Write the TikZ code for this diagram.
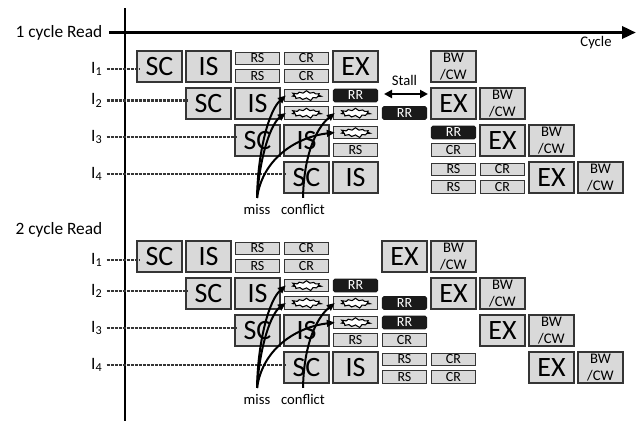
\documentclass[tikz,border=0pt]{standalone}
\usepackage{fontspec}
\setmainfont{Carlito}
\usetikzlibrary{arrows.meta,shapes.symbols}
\definecolor{boxfill}{HTML}{D9D9D9}
\definecolor{boxline}{HTML}{353535}
\definecolor{rrfill}{HTML}{1A1A1A}
\tikzset{
  bigb/.style={draw=boxline, fill=boxfill, line width=1.1pt, minimum width=33.75pt, minimum height=23.25pt, inner sep=0pt, font=\fontsize{21}{21}\selectfont},
  bwb/.style={bigb, font=\fontsize{11}{12.5}\selectfont, align=center},
  smallb/.style={draw=boxline, fill=boxfill, line width=1pt, minimum width=33pt, minimum height=9.4pt, inner sep=0pt, font=\fontsize{10.5}{10.5}\selectfont},
  rrb/.style={smallb, fill=rrfill, draw=rrfill, rounded corners=1.2pt, text=white},
  burst/.style={starburst, starburst points=11, starburst point height=2.4pt, minimum width=23pt, minimum height=8.5pt, inner sep=0pt, draw=black, line width=0.8pt, fill=white},
  ilab/.style={anchor=east, inner sep=1pt, font=\fontsize{13}{13}\selectfont},
  iline/.style={draw=boxline, line width=1.8pt, dash pattern=on 2.2pt off 0.8pt},
  curv/.style={line width=1.5pt, -{Triangle[length=6pt,width=5pt]}},
  ann/.style={font=\fontsize{11}{11}\selectfont, inner sep=1pt},
  ttl/.style={font=\fontsize{13}{13}\selectfont, inner sep=1pt, anchor=west},
}
\newcommand\pbig[4]{\node[bigb] (#1) at ({159.5+49*#2},{#3+15.5}) {#4};}
\newcommand\pbw[3]{\node[bwb] (#1) at ({159.5+49*#2},{#3+15.5}) {BW\\/CW};}
\newcommand\ptop[4]{\node[smallb] (#1) at ({159.5+49*#2},{#3+7.5}) {#4};}
\newcommand\pbot[4]{\node[smallb] (#1) at ({159.5+49*#2},{#3+25}) {#4};}
\newcommand\prrt[3]{\node[rrb] (#1) at ({159.5+49*#2},{#3+7.5}) {RR};}
\newcommand\prrb[3]{\node[rrb] (#1) at ({159.5+49*#2},{#3+25}) {RR};}
\newcommand\pstt[3]{\node[smallb] (#1) at ({159.5+49*#2},{#3+7.5}) {}; \node[burst] (#1b) at (#1.center) {};}
\newcommand\pstb[3]{\node[smallb] (#1) at ({159.5+49*#2},{#3+25}) {}; \node[burst] (#1b) at (#1.center) {};}
\begin{document}
\begin{tikzpicture}[x=0.75pt,y=-0.75pt]
\useasboundingbox (0,0) rectangle (640,421);
% axis
\coordinate (axtop) at (125,8);
\coordinate (axbot) at (125,421);
\draw[line width=1pt, black] (axtop) -- (axbot);
% titles
\node[ttl] (t1) at (14,32.5) {1 cycle Read};
\node[ttl] (t2) at (14,230) {2 cycle Read};
\coordinate (cyc) at (636,32.5);
\draw[line width=2.6pt, -{Triangle[length=10.5pt,width=9pt]}] ([xshift=4pt]t1.east) -- (cyc);
\node[ann] (cyl) at (596,43) {Cycle};

% ===== top section =====
\pbig{a1sc}{0}{51}{SC} \pbig{a1is}{1}{51}{IS}
\ptop{a1rs1}{2}{51}{RS} \pbot{a1rs2}{2}{51}{RS}
\ptop{a1cr1}{3}{51}{CR} \pbot{a1cr2}{3}{51}{CR}
\pbig{a1ex}{4}{51}{EX} \pbw{a1bw}{6}{51}

\pbig{a2sc}{1}{88}{SC} \pbig{a2is}{2}{88}{IS}
\pstt{a2x1}{3}{88} \pstb{a2x2}{3}{88}
\prrt{a2rr1}{4}{88} \pstb{a2x3}{4}{88}
\prrb{a2rr2}{5}{88}
\pbig{a2ex}{6}{88}{EX} \pbw{a2bw}{7}{88}

\pbig{a3sc}{2}{125}{SC} \pbig{a3is}{3}{125}{IS}
\pstt{a3x}{4}{125} \pbot{a3rs}{4}{125}{RS}
\prrt{a3rr}{6}{125} \pbot{a3cr}{6}{125}{CR}
\pbig{a3ex}{7}{125}{EX} \pbw{a3bw}{8}{125}

\pbig{a4sc}{3}{162}{SC} \pbig{a4is}{4}{162}{IS}
\ptop{a4rs1}{6}{162}{RS} \pbot{a4rs2}{6}{162}{RS}
\ptop{a4cr1}{7}{162}{CR} \pbot{a4cr2}{7}{162}{CR}
\pbig{a4ex}{8}{162}{EX} \pbw{a4bw}{9}{162}

% stall
\node[ann] (stl) at (404.5,80) {Stall};
\coordinate (stA) at (384,94);
\coordinate (stB) at (428,94);
\draw[line width=1.5pt, {Triangle[length=6pt,width=6pt]}-{Triangle[length=6pt,width=6pt]}] (stA) -- (stB);

% I labels top
\node[ilab] (la1) at (104,69) {I\textsubscript{1}};
\node[ilab] (la2) at (104,100.5) {I\textsubscript{2}};
\node[ilab] (la3) at (104,137) {I\textsubscript{3}};
\node[ilab] (la4) at (104,174) {I\textsubscript{4}};
\draw[iline] ([xshift=2pt]la1.east) -- ([xshift=2pt]la1.east -| a1sc.west);
\draw[iline] ([xshift=2pt]la2.east) -- ([xshift=2pt]la2.east -| a2sc.west);
\draw[iline] ([xshift=2pt]la3.east) -- ([xshift=2pt]la3.east -| a3sc.west);
\draw[iline] ([xshift=2pt]la4.east) -- ([xshift=2pt]la4.east -| a4sc.west);

% miss / conflict top
\node[ann] (ma) at (257,210) {miss};
\node[ann] (ca) at (303,210) {conflict};
\draw[curv] ([yshift=4pt]ma.north) .. controls +(1,-50) and +(-16,14) .. ([xshift=1.5pt]a2x1.west);
\draw[curv] ([yshift=4pt]ma.north) .. controls +(3,-45) and +(-14,10) .. ([xshift=1.5pt]a2x2.west);
\draw[curv] ([yshift=4pt]ma.north) .. controls +(6,-42) and +(-35,4) .. ([xshift=1.5pt]a3x.west);
\draw[curv] ([yshift=4pt]ca.north) .. controls +(1,-50) and +(-15,12) .. ([xshift=1.5pt]a2x3.west);

% ===== bottom section =====
\pbig{b1sc}{0}{241}{SC} \pbig{b1is}{1}{241}{IS}
\ptop{b1rs1}{2}{241}{RS} \pbot{b1rs2}{2}{241}{RS}
\ptop{b1cr1}{3}{241}{CR} \pbot{b1cr2}{3}{241}{CR}
\pbig{b1ex}{5}{241}{EX} \pbw{b1bw}{6}{241}

\pbig{b2sc}{1}{278}{SC} \pbig{b2is}{2}{278}{IS}
\pstt{b2x1}{3}{278} \pstb{b2x2}{3}{278}
\prrt{b2rr1}{4}{278} \pstb{b2x3}{4}{278}
\prrb{b2rr2}{5}{278}
\pbig{b2ex}{6}{278}{EX} \pbw{b2bw}{7}{278}

\pbig{b3sc}{2}{315}{SC} \pbig{b3is}{3}{315}{IS}
\pstt{b3x}{4}{315} \pbot{b3rs}{4}{315}{RS}
\prrt{b3rr}{5}{315} \pbot{b3cr}{5}{315}{CR}
\pbig{b3ex}{7}{315}{EX} \pbw{b3bw}{8}{315}

\pbig{b4sc}{3}{352}{SC} \pbig{b4is}{4}{352}{IS}
\ptop{b4rs1}{5}{352}{RS} \pbot{b4rs2}{5}{352}{RS}
\ptop{b4cr1}{6}{352}{CR} \pbot{b4cr2}{6}{352}{CR}
\pbig{b4ex}{8}{352}{EX} \pbw{b4bw}{9}{352}

% I labels bottom
\node[ilab] (lb1) at (104,260) {I\textsubscript{1}};
\node[ilab] (lb2) at (104,291) {I\textsubscript{2}};
\node[ilab] (lb3) at (104,328) {I\textsubscript{3}};
\node[ilab] (lb4) at (104,365) {I\textsubscript{4}};
\draw[iline] ([xshift=2pt]lb1.east) -- ([xshift=2pt]lb1.east -| b1sc.west);
\draw[iline] ([xshift=2pt]lb2.east) -- ([xshift=2pt]lb2.east -| b2sc.west);
\draw[iline] ([xshift=2pt]lb3.east) -- ([xshift=2pt]lb3.east -| b3sc.west);
\draw[iline] ([xshift=2pt]lb4.east) -- ([xshift=2pt]lb4.east -| b4sc.west);

% miss / conflict bottom
\node[ann] (mb) at (257,400) {miss};
\node[ann] (cb) at (303,400) {conflict};
\draw[curv] ([yshift=4pt]mb.north) .. controls +(1,-50) and +(-16,14) .. ([xshift=1.5pt]b2x1.west);
\draw[curv] ([yshift=4pt]mb.north) .. controls +(3,-45) and +(-14,10) .. ([xshift=1.5pt]b2x2.west);
\draw[curv] ([yshift=4pt]mb.north) .. controls +(6,-42) and +(-35,4) .. ([xshift=1.5pt]b3x.west);
\draw[curv] ([yshift=4pt]cb.north) .. controls +(1,-50) and +(-15,12) .. ([xshift=1.5pt]b2x3.west);
\end{tikzpicture}
\end{document}
